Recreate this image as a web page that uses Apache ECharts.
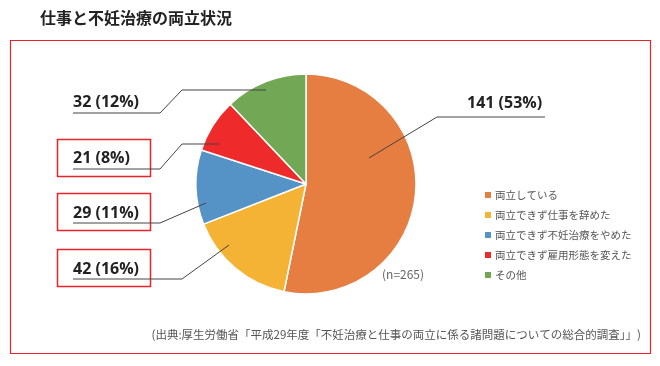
<!DOCTYPE html>
<html><head><meta charset="utf-8">
<script src="https://cdn.jsdelivr.net/npm/echarts@6/dist/echarts.min.js"></script>
<style>html,body{margin:0;padding:0;background:#fff}#c{width:660px;height:366px}</style>
</head><body><div id="c"></div>
<script>
const categories = ['両立している','両立できず仕事を辞めた','両立できず不妊治療をやめた','両立できず雇用形態を変えた','その他'];
const values = [141, 42, 29, 21, 32];
const percents = [53, 16, 11, 8, 12];
const colors = ['#E67D41','#F5B335','#5592C6','#EE2A2A','#72A855'];
const titleText = '仕事と不妊治療の両立状況';
const sampleNote = '(n=265)';
const sourceNote = '(出典:厚生労働省「平成29年度「不妊治療と仕事の両立に係る諸問題についての総合的調査」」)';
const boxedIdx = [1, 2, 3];

// label placement (layout, not data)
const labelPos = [
  {x:467, y:103, line:[[369,158],[437,117],[545,117]]},
  {x:73, y:269, line:[[229,245],[182,279],[73,279]]},
  {x:73, y:213, line:[[206,203],[160,223],[73,223]]},
  {x:73, y:158, line:[[219,144],[182,144],[160,169],[73,169]]},
  {x:73, y:102, line:[[266,90],[182,90],[160,113],[73,113]]}
];
const boxRects = {1:[57,249,93,37], 2:[57,193,93,37], 3:[57,139,93,37]};

const chart = echarts.init(document.getElementById('c'));
const graphics = [
  {type:'rect', shape:{x:10.5,y:40.5,width:640,height:313}, style:{fill:'none',stroke:'#E8242A',lineWidth:1.2}},
  {type:'text', left:40, top:10, style:{text:titleText, font:'bold 16px "Noto Sans CJK JP"', fill:'#222'}},
  {type:'text', left:382, top:268, style:{text:sampleNote, font:'12px "Noto Sans CJK JP"', fill:'#666'}},
  {type:'text', right:19, top:329, style:{text:sourceNote, font:'11.5px "Noto Sans CJK JP"', fill:'#555'}}
];
boxedIdx.forEach(i => {
  const r = boxRects[i];
  graphics.push({type:'rect', shape:{x:r[0]+0.5,y:r[1]+0.5,width:r[2],height:r[3]}, style:{fill:'none',stroke:'#E8242A',lineWidth:1.5}});
});

const pieData = categories.map((c,i)=>({name:c, value:values[i]}));
chart.setOption({
  animation:false,
  color: colors,
  graphic: graphics,
  legend: {
    orient:'vertical', left:478, top:183,
    itemWidth:8, itemHeight:8, itemGap:6, icon:'rect',
    textStyle:{fontSize:10.5, color:'#555', fontFamily:'"Noto Sans CJK JP"', lineHeight:14, padding:[0,0,0,-2]},
    data: categories
  },
  series: [{
    type:'pie', z:2,
    center:[306,184], radius:110,
    startAngle:90, clockwise:true,
    itemStyle:{borderColor:'#fff', borderWidth:1.5},
    label:{show:false}, labelLine:{show:false},
    emphasis:{disabled:true},
    data: pieData
  },{
    type:'pie', z:3,
    center:[306,184], radius:110,
    startAngle:90, clockwise:true,
    legendHoverLink:false,
    itemStyle:{color:'rgba(0,0,0,0)', borderWidth:0},
    label:{
      show:true,
      formatter: p => values[p.dataIndex] + ' (' + percents[p.dataIndex] + '%)',
      fontSize:16, fontWeight:'bold', color:'#222', fontFamily:'"Open Sans", "Noto Sans CJK JP"'
    },
    labelLine:{show:true, lineStyle:{color:'#444', width:1}},
    labelLayout: function(p){
      const lp = labelPos[p.dataIndex];
      return {x: lp.x, y: lp.y, align:'left', verticalAlign:'middle', labelLinePoints: lp.line};
    },
    emphasis:{disabled:true},
    tooltip:{show:false},
    data: pieData.map(d=>({name:d.name+' ', value:d.value}))
  }]
});
</script></body></html>
